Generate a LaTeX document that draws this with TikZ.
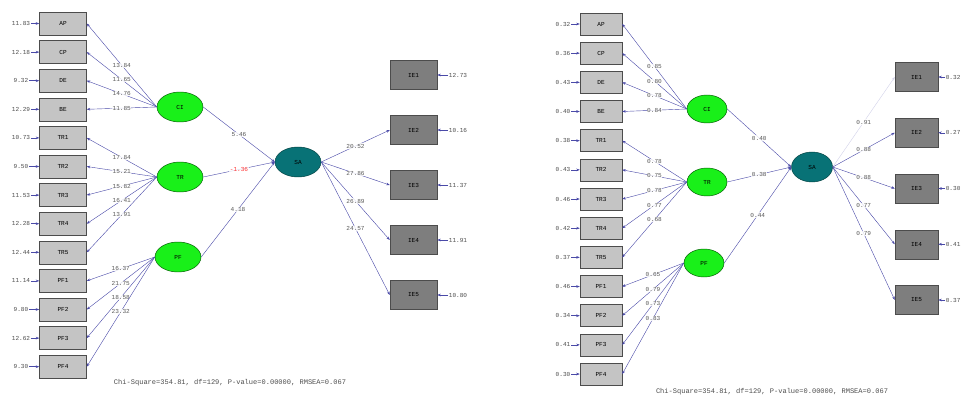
\documentclass[tikz,border=0pt]{standalone}
\usepackage{fontspec}
\setmonofont{Liberation Mono}
\usetikzlibrary{arrows.meta,shapes.geometric}
\definecolor{boxlight}{HTML}{C4C4C4}
\definecolor{boxdark}{HTML}{7E7E7E}
\definecolor{lineblue}{HTML}{4A4AA8}
\definecolor{latgreen}{HTML}{19F019}
\definecolor{etateal}{HTML}{087276}
\newcommand{\lbl}{\ttfamily\fontsize{5.2pt}{6pt}\selectfont}
\tikzset{
  obs/.style={draw=gray!60!black, fill=boxlight, minimum width=1.41cm, minimum height=0.69cm, inner sep=0pt, font=\lbl},
  obsr/.style={obs, fill=boxdark, minimum height=0.87cm},
  lat/.style={ellipse, draw=green!35!black, fill=latgreen, minimum width=1.38cm, minimum height=0.9cm, inner sep=0pt, font=\lbl},
  eta/.style={lat, draw=teal!50!black, fill=etateal},
  err/.style={font=\lbl, text=black!70, inner sep=0.5pt},
  ln/.style={draw=lineblue, line width=0.35pt, -{Stealth[length=3pt,width=2.2pt]}},
  val/.style={fill=white, fill opacity=0.8, text opacity=1, inner sep=0.4pt, font=\lbl, text=black!65}
}
\begin{document}
\begin{tikzpicture}[x=0.03cm, y=-0.03cm]
\useasboundingbox (0,0) rectangle (963,400);

% t-values
\node[lat] (ci) at (180,107) {CI};
\node[lat] (tr) at (180,177) {TR};
\node[lat] (pf) at (178,257) {PF};
\node[eta] (sa) at (298,162) {SA};

\foreach \n/\e [count=\i] in {AP/11.83, CP/12.18, DE/9.32, BE/12.29, TR1/10.73, TR2/9.50, TR3/11.53,
    TR4/12.28, TR5/12.44, PF1/11.14, PF2/9.80, PF3/12.62, PF4/9.30} {
  \node[obs] (a\i) at (63,{23.5+28.6*(\i-1)}) {\n};
  \node[err] (ea\i) at (21,{23.5+28.6*(\i-1)}) {\e};
  \path[ln] (ea\i) -- (a\i);
}
\foreach \n/\e [count=\i] in {IE1/12.73, IE2/10.16, IE3/11.37, IE4/11.91, IE5/10.80} {
  \node[obsr] (b\i) at (413.5,{75+55*(\i-1)}) {\n};
  \node[err] (eb\i) at (458,{75+55*(\i-1)}) {\e};
  \path[ln] (eb\i) -- (b\i);
}

\foreach \i/\v in {1/13.84, 2/11.65, 3/14.76, 4/11.85}
  \path[ln] (ci.west) -- node[val] {\v} (a\i.east);
\foreach \i/\v in {5/17.84, 6/15.21, 7/15.82, 8/16.41, 9/13.91}
  \path[ln] (tr.west) -- node[val] {\v} (a\i.east);
\foreach \i/\v in {10/16.37, 11/21.75, 12/18.58, 13/23.32}
  \path[ln] (pf.west) -- node[val] {\v} (a\i.east);

\path[ln] (ci.east) -- node[val] {5.46} (sa.west);
\path[ln] (tr.east) -- node[val, text=red!80] {-1.36} (sa.west);
\path[ln] (pf.east) -- node[val] {4.18} (sa.west);

\foreach \i/\v in {2/20.52, 3/27.86, 4/26.89, 5/24.57}
  \path[ln] (sa.east) -- node[val] {\v} (b\i.west);

\node[font=\ttfamily\fontsize{6pt}{7pt}\selectfont, text=black!70] (fitl) at (230,383)
  {Chi-Square=354.81, df=129, P-value=0.00000, RMSEA=0.067};

% standardized solution
\node[lat, minimum width=1.2cm, minimum height=0.84cm] (ci2) at (707,109) {CI};
\node[lat, minimum width=1.2cm, minimum height=0.84cm] (tr2) at (707,182) {TR};
\node[lat, minimum width=1.2cm, minimum height=0.84cm] (pf2) at (704,263) {PF};
\node[eta, minimum width=1.23cm] (sa2) at (812,167) {SA};

\foreach \n/\e [count=\i] in {AP/0.32, CP/0.36, DE/0.43, BE/0.40, TR1/0.38, TR2/0.43, TR3/0.46,
    TR4/0.42, TR5/0.37, PF1/0.46, PF2/0.34, PF3/0.41, PF4/0.30} {
  \node[obs, minimum width=1.26cm, minimum height=0.66cm] (c\i) at (601,{24+29.17*(\i-1)}) {\n};
  \node[err] (ec\i) at (563,{24+29.17*(\i-1)}) {\e};
  \path[ln] (ec\i) -- (c\i);
}
\foreach \n/\e [count=\i] in {IE1/0.32, IE2/0.27, IE3/0.30, IE4/0.41, IE5/0.37} {
  \node[obsr, minimum width=1.29cm] (d\i) at (916.5,{77+55.75*(\i-1)}) {\n};
  \node[err, anchor=west] (ed\i) at (945,{77+55.75*(\i-1)}) {\e};
  \path[ln] (ed\i) -- (d\i);
}

\foreach \i/\v in {1/0.85, 2/0.80, 3/0.78, 4/0.84}
  \path[ln] (ci2.west) -- node[val] {\v} (c\i.east);
\foreach \i/\v in {5/0.78, 6/0.75, 7/0.78, 8/0.77, 9/0.68}
  \path[ln] (tr2.west) -- node[val] {\v} (c\i.east);
\foreach \i/\v in {10/0.65, 11/0.79, 12/0.73, 13/0.83}
  \path[ln] (pf2.west) -- node[val] {\v} (c\i.east);

\path[ln] (ci2.east) -- node[val] {0.40} (sa2.west);
\path[ln] (tr2.east) -- node[val] {0.38} (sa2.west);
\path[ln] (pf2.east) -- node[val] {0.44} (sa2.west);

\path[ln, draw=lineblue!25] (sa2.east) -- node[val] {0.91} (d1.west);
\foreach \i/\v in {2/0.88, 3/0.88, 4/0.77, 5/0.79}
  \path[ln] (sa2.east) -- node[val] {\v} (d\i.west);

\node[font=\ttfamily\fontsize{6pt}{7pt}\selectfont, text=black!70] (fitr) at (772,392)
  {Chi-Square=354.81, df=129, P-value=0.00000, RMSEA=0.067};
\end{tikzpicture}
\end{document}
